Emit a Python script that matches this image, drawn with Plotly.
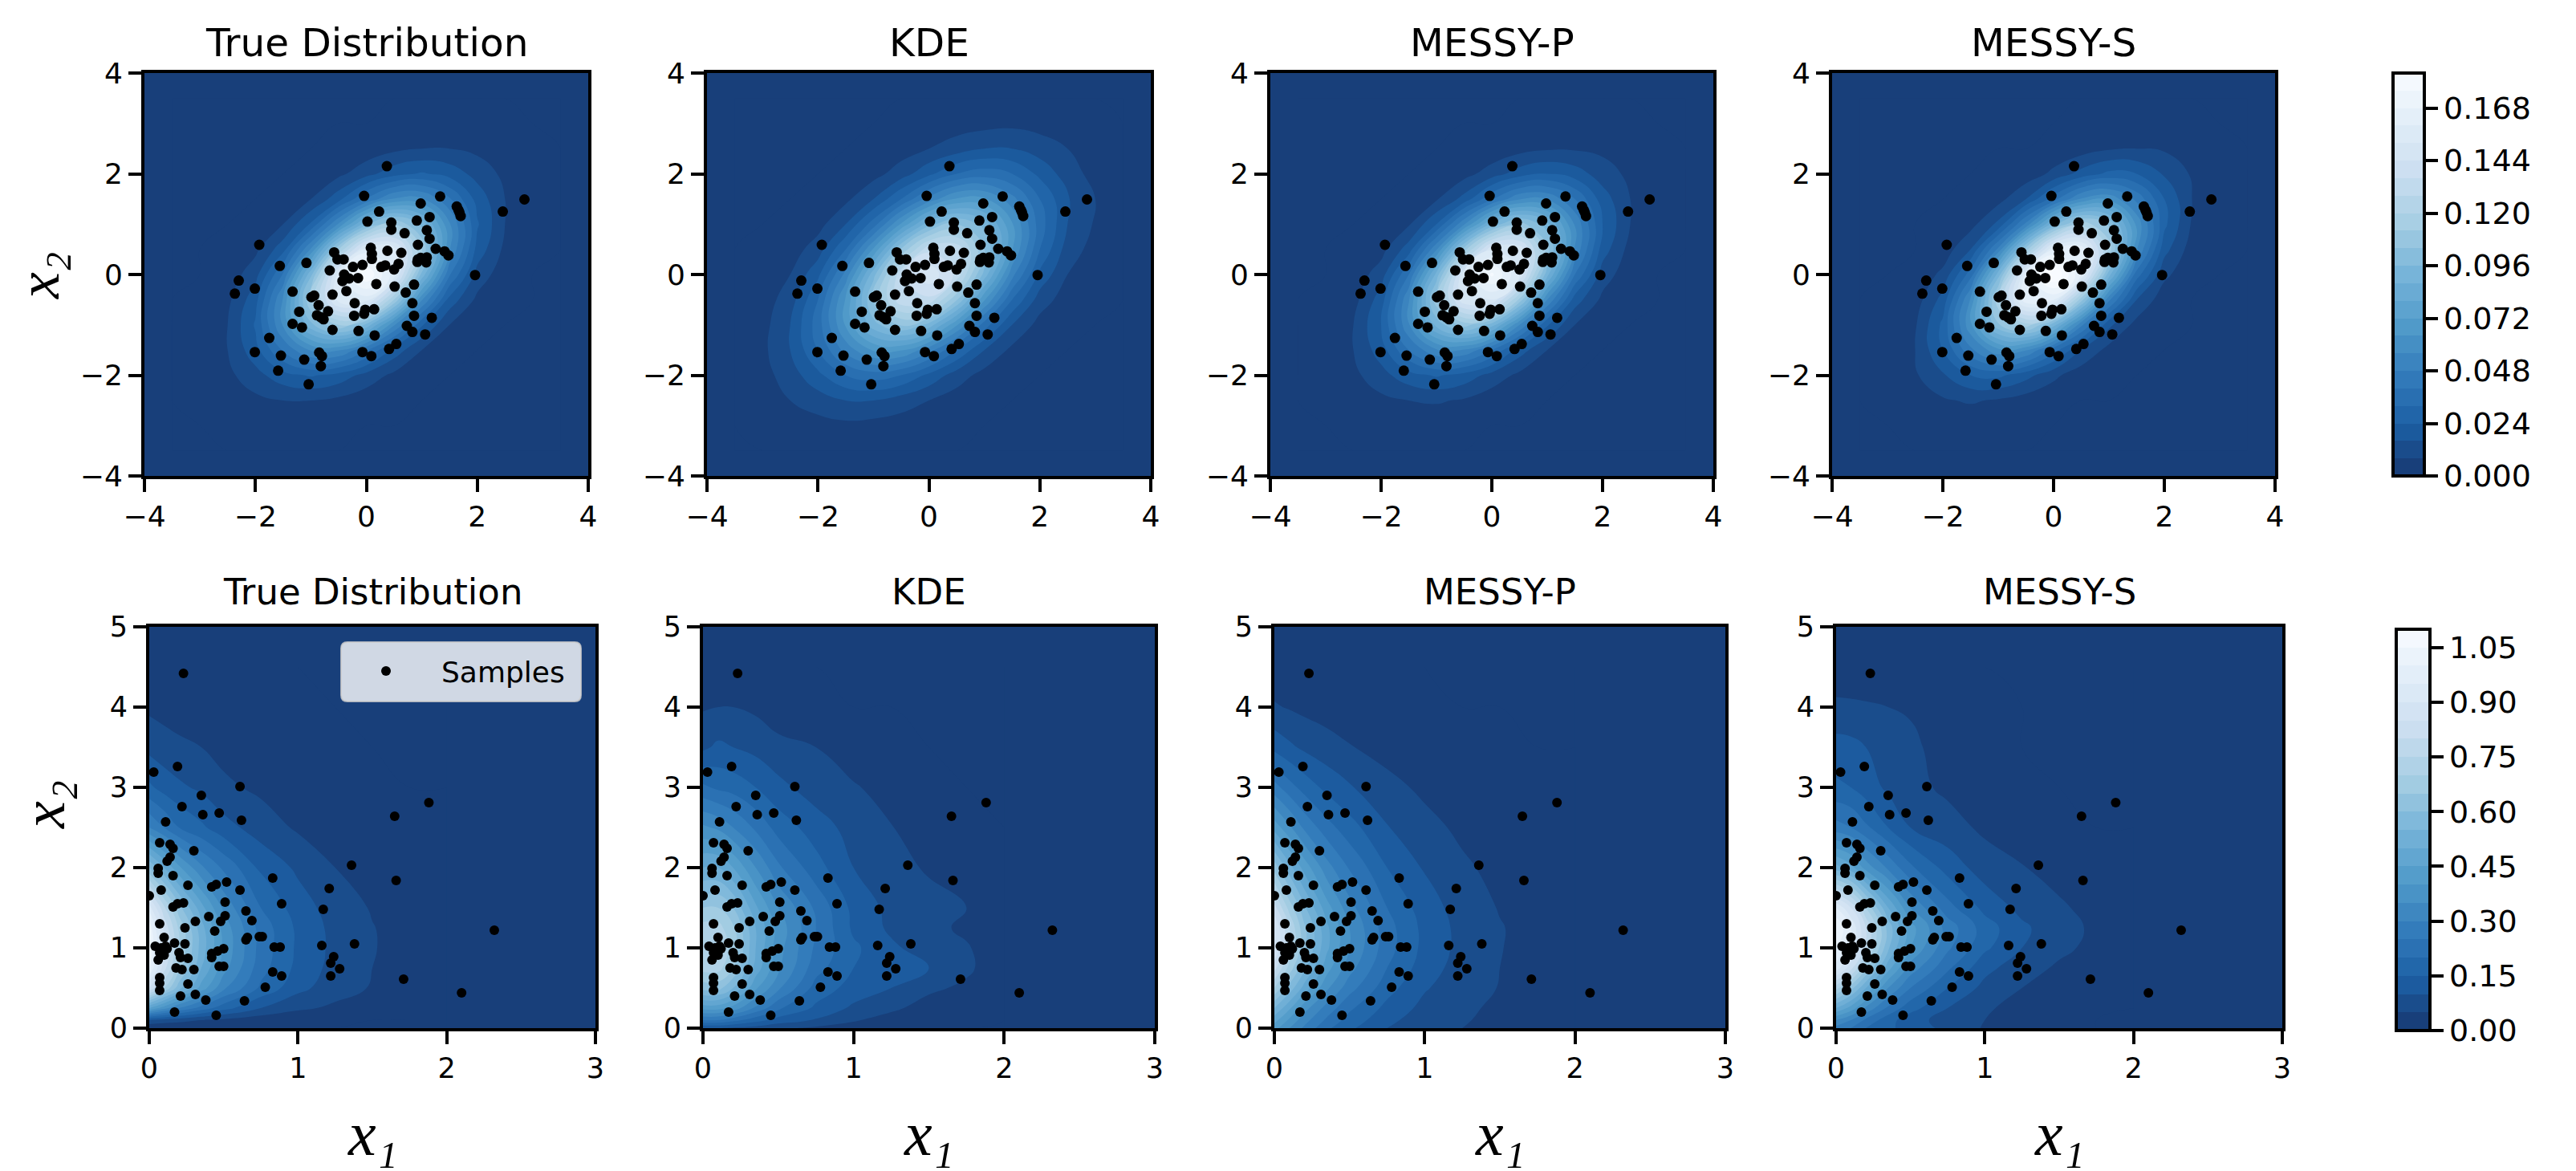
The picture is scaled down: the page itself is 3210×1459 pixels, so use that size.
import numpy as np
import plotly.graph_objects as go

W, H = 3210, 1459

# ---------- categories / tick labels ----------
titles = ["True Distribution", "KDE", "MESSY-P", "MESSY-S"]
ticks_top = [-4, -2, 0, 2, 4]
ticks_bottom_x = [0, 1, 2, 3]
ticks_bottom_y = [0, 1, 2, 3, 4, 5]
cbar_top_ticks = [0.000, 0.024, 0.048, 0.072, 0.096, 0.120, 0.144, 0.168]
cbar_top_text = ["0.000", "0.024", "0.048", "0.072", "0.096", "0.120", "0.144", "0.168"]
cbar_bottom_ticks = [0.00, 0.15, 0.30, 0.45, 0.60, 0.75, 0.90, 1.05]
cbar_bottom_text = ["0.00", "0.15", "0.30", "0.45", "0.60", "0.75", "0.90", "1.05"]

# ---------- samples ----------
top_x = [.37,-.04,1.33,.98,1.63,1.66,1.68,1.70,2.85,2.46,.23,1.14,.91,.02,.45,.45,1.09,.69,1.14,-1.93,.93,.08,
         1.25,1.41,1.48,.38,.63,-.58,.10,.10,-.52,-.41,.93,1.09,.92,1.08,.98,-1.08,-1.56,-.07,-.24,.27,.34,.58,
         .5,-.66,1.96,-.4,-.31,-.15,-.43,-2.3,-2.01,-2.37,.18,.86,.51,-.36,-1.33,.71,-.61,-.94,-.99,-.21,.83,
         -.86,.14,-.02,-.04,-.69,-1.21,-.22,.86,1.18,-.89,-.82,-.77,-1.33,-1.16,.73,.83,-.61,-.14,1.06,.15,
         -1.75,.54,.41,-2.01,-.07,-.85,.09,-1.54,-.8,-1.12,-.82,-1.59,-1.04]
top_y = [2.15,1.56,1.55,1.41,1.35,1.28,1.23,1.16,1.49,1.25,1.25,1.14,1.07,1.05,1.03,.89,.88,.82,.71,.59,.59,.53,
         .51,.46,.38,.47,.43,.44,.41,.31,.30,.30,.3,.34,.25,.24,.33,.23,.17,.19,.15,.15,.18,.21,
         .1,.08,-.01,0,-.08,-.07,-.13,-.12,-.28,-.38,-.19,-.2,-.24,-.33,-.34,-.36,-.4,-.42,-.45,-.57,-.57,
         -.61,-.69,-.7,-.78,-.73,-.74,-.82,-.82,-.86,-.81,-.85,-.89,-.98,-1.05,-1.02,-1.14,-1.1,-1.12,-1.19,-1.21,
         -1.26,-1.38,-1.48,-1.54,-1.54,-1.55,-1.62,-1.61,-1.62,-1.69,-1.82,-1.91,-2.18]

bottom_x = [.23,.19,.03,.61,.35,.22,.36,.47,.62,.11,.07,.14,.16,.30,.14,.12,.06,.06,.16,.26,.42,.45,.52,.83,.61,.08,
            0,.23,.19,.16,.51,.89,.65,.40,.51,.48,.69,.31,.07,.24,.44,.74,.76,.65,.66,.10,.17,.24,.04,.08,.11,.12,
            .10,.07,.10,.06,.50,.46,.42,.42,.20,.21,.26,.84,.88,1.16,1.38,1.17,1.21,1.36,1.66,1.65,1.88,2.32,1.24,
            1.22,1.28,1.22,1.71,2.10,.47,.50,.18,.22,.30,.83,.89,.07,.07,.07,.26,.78,.21,.31,.38,.64,.17,.45]
bottom_y = [4.42,3.26,3.19,3.01,2.90,2.76,2.66,2.68,2.59,2.57,2.31,2.29,2.24,2.21,2.13,2.08,1.99,1.93,1.90,1.78,1.76,
            1.79,1.82,1.87,1.72,1.72,1.65,1.56,1.55,1.51,1.57,1.55,1.46,1.39,1.40,1.33,1.34,1.33,1.30,1.25,1.21,1.14,
            1.14,1.10,1.13,1.13,1.06,1.05,1.02,1.00,1.02,.99,.95,.94,.91,.85,.99,.96,.93,.88,.94,.88,.87,1.01,1.01,
            1.03,1.05,1.48,1.74,2.03,1.84,2.64,2.81,1.22,.89,.81,.74,.65,.61,.44,.77,.77,.75,.73,.73,.70,.65,.63,.56,
            .47,.55,.51,.40,.42,.35,.34,.20,.16]

# ---------- density, top row (units of 0.001) ----------
top_grid = [-3.5, -3, -2.5, -2, -1.5, -1, -.5, 0, .5, 1, 1.5, 2, 2.5, 3, 3.5]

dens_true = [
 [0,1,2,2,2,1,0,0,0,0,0,0,0],
 [1,3,6,8,8,6,3,1,0,0,0,0,0],
 [2,6,13,21,25,21,13,6,2,0,0,0,0],
 [2,8,21,41,57,57,41,21,8,2,0,0,0],
 [2,8,25,57,94,112,94,57,25,8,2,0,0],
 [1,6,21,57,112,156,156,112,57,21,6,1,0],
 [0,3,13,41,94,156,184,156,94,41,13,3,0],
 [0,1,6,21,57,112,156,156,112,57,21,6,1],
 [0,0,2,8,25,57,94,112,94,57,25,8,2],
 [0,0,0,2,8,21,41,57,57,41,21,8,2],
 [0,0,0,0,2,6,13,21,25,21,13,6,2],
 [0,0,0,0,0,1,3,6,8,8,6,3,1],
 [0,0,0,0,0,0,0,1,2,2,2,1,0],
]
dens_kde = [
 [2,4,5,6,5,4,2,1,0,0,0,0,0],
 [4,8,12,16,16,12,8,4,1,0,0,0,0],
 [5,12,22,32,36,32,22,12,5,2,0,0,0],
 [6,16,32,51,65,65,51,32,16,6,2,0,0],
 [5,16,36,65,93,105,93,65,36,16,5,1,0],
 [4,12,32,65,105,134,134,105,65,32,12,4,1],
 [2,8,22,51,93,134,150,134,93,51,22,8,2],
 [1,4,12,32,65,105,134,134,105,65,32,12,5],
 [0,1,5,16,36,65,93,105,93,65,36,16,7],
 [0,0,2,6,16,32,51,65,65,51,32,17,8],
 [0,0,0,2,5,12,22,32,36,32,22,12,5],
 [0,0,0,0,1,4,8,12,16,16,12,8,4],
 [0,0,0,0,0,1,2,4,5,6,5,4,2],
]
dens_p = [
 [0,1,2,2,2,1,0,0,0,0,0,0,0],
 [1,3,6,8,9,7,3,1,0,0,0,0,0],
 [2,6,13,21,25,21,13,6,2,0,0,0,0],
 [2,8,20,40,55,55,40,20,8,2,0,0,0],
 [2,8,24,55,91,108,92,56,25,8,2,0,0],
 [1,5,20,55,109,151,152,110,56,20,6,1,0],
 [0,3,12,40,91,152,178,152,91,40,12,3,0],
 [0,1,5,20,55,108,151,150,108,55,20,5,1],
 [0,0,2,7,24,55,90,108,91,55,24,8,2],
 [0,0,0,2,7,19,39,55,55,40,20,8,2],
 [0,0,0,0,1,5,12,20,24,20,12,6,2],
 [0,0,0,0,0,1,2,5,7,7,6,3,1],
 [0,0,0,0,0,0,0,1,1,2,1,1,0],
]
dens_s = [
 [0,1,2,2,2,1,0,0,0,0,0,0,0],
 [1,4,7,9,7,4,2,0,0,0,0,0,0],
 [2,7,15,24,26,19,10,3,1,0,0,0,0],
 [2,8,24,46,62,57,36,16,5,1,0,0,0],
 [2,7,26,62,103,117,92,50,18,5,1,0,0],
 [1,4,19,57,117,166,161,108,50,16,3,0,0],
 [0,2,10,36,92,161,194,161,92,36,10,2,0],
 [0,0,3,16,50,108,161,166,117,57,19,4,1],
 [0,0,1,5,18,50,92,117,103,62,26,7,2],
 [0,0,0,1,5,16,36,57,62,46,24,8,2],
 [0,0,0,0,1,3,10,19,26,24,15,7,2],
 [0,0,0,0,0,0,2,4,7,8,7,4,1],
 [0,0,0,0,0,0,0,1,2,2,2,1,0],
]

# ---------- density, bottom row ----------
bottom_grid_x = [0, .1, .2, .35, .5, .75, 1, 1.25, 1.5, 1.75, 2]
bottom_grid_y = [0, .1, .25, .5, .75, 1, 1.25, 1.5, 2, 2.5, 3, 3.5, 4, 4.5]

gam_true = [
 [0,0,0,0,0,0,0,0,0,0,0],
 [.10,.08,.07,.05,.04,.02,.01,.01,0,0,0],
 [.45,.37,.30,.23,.17,.10,.06,.04,.02,.01,.01],
 [.85,.70,.57,.43,.31,.19,.115,.072,.046,.026,.015],
 [1.0,.82,.67,.50,.37,.22,.135,.082,.05,.03,.018],
 [1.05,.86,.70,.53,.39,.23,.14,.086,.053,.03,.02],
 [1.03,.84,.69,.52,.38,.23,.139,.084,.052,.03,.018],
 [.93,.76,.62,.47,.34,.20,.125,.076,.046,.028,.017],
 [.60,.50,.41,.31,.24,.14,.09,.05,.03,.016,.01],
 [.30,.25,.20,.16,.12,.075,.043,.025,.015,.01,.005],
 [.16,.13,.11,.09,.06,.04,.02,.013,.008,0,0],
 [.085,.07,.06,.05,.035,.019,.011,.005,0,0,0],
 [.04,.033,.027,.02,.015,.008,.004,0,0,0,0],
 [.015,.012,.01,.008,.005,.002,0,0,0,0,0],
]
gam_kde = [
 [.10,.10,.09,.08,.06,.04,.03,.02,.01,0,0],
 [.25,.25,.22,.17,.13,.095,.055,.03,.015,.005,0],
 [.42,.42,.38,.29,.21,.14,.09,.06,.03,.01,0],
 [.62,.62,.55,.41,.31,.18,.13,.10,.06,.04,.01],
 [.72,.72,.65,.48,.36,.22,.15,.125,.10,.06,.015],
 [.74,.74,.68,.50,.37,.24,.16,.11,.075,.055,.015],
 [.72,.72,.66,.50,.38,.25,.14,.09,.065,.04,.01],
 [.65,.65,.60,.46,.35,.24,.135,.085,.065,.05,.012],
 [.50,.50,.45,.35,.26,.17,.10,.065,.045,.02,.005],
 [.36,.34,.30,.24,.18,.125,.08,.052,.025,.01,0],
 [.21,.19,.18,.15,.115,.075,.055,.03,.01,0,0],
 [.09,.11,.10,.085,.065,.05,.02,.01,0,0,0],
 [.045,.05,.05,.04,.02,.01,0,0,0,0,0],
 [.01,.01,.01,.005,0,0,0,0,0,0,0],
]
gam_p = [
 [.42,.35,.29,.21,.16,.10,.063,.05,.03,.015,.01],
 [.47,.39,.32,.24,.18,.115,.07,.055,.035,.018,.01],
 [.55,.46,.37,.28,.21,.135,.085,.06,.04,.02,.012],
 [.70,.58,.48,.36,.27,.17,.105,.07,.048,.025,.015],
 [.82,.68,.56,.42,.32,.20,.125,.077,.05,.03,.018],
 [.90,.75,.61,.46,.35,.22,.135,.084,.052,.032,.02],
 [.90,.75,.61,.46,.35,.22,.135,.084,.053,.032,.02],
 [.82,.68,.56,.42,.32,.20,.125,.077,.047,.03,.018],
 [.63,.52,.43,.32,.245,.15,.095,.058,.036,.022,.014],
 [.43,.36,.29,.22,.17,.103,.065,.04,.025,.015,.01],
 [.27,.22,.18,.135,.105,.065,.04,.025,.015,.01,.006],
 [.135,.11,.09,.07,.053,.032,.02,.012,.006,0,0],
 [.055,.046,.037,.028,.02,.013,.006,0,0,0,0],
 [.02,.016,.013,.01,.007,.003,0,0,0,0,0],
]
gam_s = [
 [.28,.25,.20,.16,.13,.085,.045,.02,.01,0,0],
 [.35,.30,.24,.17,.12,.08,.05,.025,.01,0,0],
 [.50,.43,.34,.24,.17,.10,.058,.03,.012,.005,0],
 [.72,.62,.50,.35,.25,.15,.085,.05,.025,.012,.006],
 [.93,.82,.66,.47,.33,.21,.115,.072,.042,.022,.01],
 [1.0,.92,.78,.56,.40,.26,.16,.10,.062,.036,.015],
 [1.05,.95,.80,.58,.42,.28,.175,.11,.07,.04,.02],
 [.95,.85,.70,.50,.35,.22,.135,.085,.058,.032,.012],
 [.52,.47,.38,.29,.21,.13,.075,.053,.03,.015,.005],
 [.27,.25,.21,.15,.10,.07,.04,.02,.01,0,0],
 [.16,.15,.125,.09,.065,.04,.02,.01,0,0,0],
 [.12,.115,.10,.075,.06,.03,.015,0,0,0,0],
 [.06,.058,.055,.05,.045,.02,.01,0,0,0,0],
 [.02,.02,.02,.015,.01,0,0,0,0,0,0],
]

# ---------- styling ----------
BASE = "#183F7A"
colorscale = [
    [0.0, BASE], [0.024, BASE], [0.125, "#1C5FA4"], [0.25, "#337CBB"], [0.375, "#519BCA"],
    [0.5, "#77B4D9"], [0.625, "#A6CEE3"], [0.75, "#CBDEF0"], [0.875, "#E1EDF8"], [1.0, "#F8FBFF"],
]
FONT = "DejaVu Sans"
SERIF = "Liberation Serif"
OFF = 8  # the page body adds this much to the figure's top-left corner

top_boxes = [(180, 733), (881, 1434), (1583, 2135), (2283, 2835)]
bot_boxes = [(186, 742), (876, 1439), (1588, 2150), (2288, 2844)]
top_row = (91, 593)
bot_row = (781, 1281)


def fx(px):
    return (px - OFF) / W


def fy(py):
    return 1 - (py - OFF) / H


fig = go.Figure()
layout = {}
annotations = []


def pad(table):
    return np.pad(np.array(table, dtype=float) / 1000.0, 1).tolist()


top_tables = [dens_true, dens_kde, dens_p, dens_s]
bot_tables = [gam_true, gam_kde, gam_p, gam_s]

for k in range(8):
    idx = k + 1
    is_top = k < 4
    col = k % 4
    (x0, x1) = top_boxes[col] if is_top else bot_boxes[col]
    (y0, y1) = top_row if is_top else bot_row
    xn, yn = f"x{idx}", f"y{idx}"
    tick_size = 36 if is_top else 35
    common = dict(
        showline=True, mirror=True, linecolor="#000000", linewidth=4, showgrid=False, zeroline=False,
        automargin=False,
        ticks="outside", ticklen=16, tickwidth=3.5, tickcolor="#000000",
        tickfont=dict(family=FONT, size=tick_size, color="#000000"),
    )
    layout[f"xaxis{idx}"] = dict(
        domain=[fx(x0), fx(x1)], anchor=yn,
        range=[-4, 4] if is_top else [0, 3],
        tickmode="array", tickvals=ticks_top if is_top else ticks_bottom_x, **common)
    layout[f"yaxis{idx}"] = dict(
        domain=[fy(y1), fy(y0)], anchor=xn,
        range=[-4, 4] if is_top else [0, 5],
        tickmode="array", tickvals=ticks_top if is_top else ticks_bottom_y, **common)

    if is_top:
        cb = dict(
            thickness=39, thicknessmode="pixels", len=(top_row[1] - top_row[0]) / H, lenmode="fraction",
            x=fx(2982), xanchor="left", xpad=0, y=fy(top_row[1]), yanchor="bottom", ypad=0,
            tickmode="array", tickvals=cbar_top_ticks, ticktext=cbar_top_text)
        trace = go.Contour(
            x=top_grid, y=top_grid, z=pad(top_tables[col]), zmin=0, zmax=0.184, zauto=False,
            contours=dict(start=0, end=0.184, size=0.008, coloring="fill", showlines=False),
            line=dict(width=0, smoothing=1.3))
    else:
        cb = dict(
            thickness=42, thicknessmode="pixels", len=(1284 - 784) / H, lenmode="fraction",
            x=fx(2986), xanchor="left", xpad=0, y=fy(1284), yanchor="bottom", ypad=0,
            tickmode="array", tickvals=cbar_bottom_ticks, ticktext=cbar_bottom_text)
        trace = go.Contour(
            x=bottom_grid_x, y=bottom_grid_y, z=bot_tables[col], zmin=0, zmax=1.10, zauto=False,
            contours=dict(start=0, end=1.10, size=0.05, coloring="fill", showlines=False),
            line=dict(width=0, smoothing=1.3))
    cb.update(outlinewidth=4, outlinecolor="#000000", ticks="outside", ticklen=15, tickwidth=3.5,
              tickcolor="#000000", tickfont=dict(family=FONT, size=38, color="#000000"))
    trace.update(colorscale=colorscale, showscale=(col == 0), colorbar=cb, xaxis=xn, yaxis=yn,
                 hoverinfo="skip", showlegend=False)
    fig.add_trace(trace)

    fig.add_trace(go.Scatter(
        x=top_x if is_top else bottom_x, y=top_y if is_top else bottom_y, mode="markers", name="Samples",
        marker=dict(color="#000000", size=13 if is_top else 12),
        xaxis=xn, yaxis=yn, showlegend=(k == 4)))

    annotations.append(dict(
        text=titles[col], xref="paper", yref="paper", x=fx((x0 + x1) / 2),
        y=fy(53 if is_top else 737), xanchor="center", yanchor="middle", showarrow=False,
        font=dict(family=FONT, size=48.5 if is_top else 45, color="#000000")))
    if not is_top:
        annotations.append(dict(
            text="x\u2081", xref="paper", yref="paper", x=fx((x0 + x1) / 2), y=fy(1412),
            xanchor="center", yanchor="middle", showarrow=False,
            font=dict(family=SERIF, size=78, style="italic", color="#000000")))

annotations.append(dict(
    text="x\u2082", xref="paper", yref="paper", x=fx(48), y=fy(343), xanchor="center",
    yanchor="middle", textangle=-90, showarrow=False,
    font=dict(family=SERIF, size=74, style="italic", color="#000000")))
annotations.append(dict(
    text="x\u2082", xref="paper", yref="paper", x=fx(54), y=fy(1003), xanchor="center",
    yanchor="middle", textangle=-90, showarrow=False,
    font=dict(family=SERIF, size=76, style="italic", color="#000000")))

# rounded legend frame
lx0, lx1, ly0, ly1, r = 425, 724, 800, 874, 8
frame = (f"M {fx(lx0 + r)} {fy(ly0)} L {fx(lx1 - r)} {fy(ly0)} Q {fx(lx1)} {fy(ly0)} {fx(lx1)} {fy(ly0 + r)} "
         f"L {fx(lx1)} {fy(ly1 - r)} Q {fx(lx1)} {fy(ly1)} {fx(lx1 - r)} {fy(ly1)} "
         f"L {fx(lx0 + r)} {fy(ly1)} Q {fx(lx0)} {fy(ly1)} {fx(lx0)} {fy(ly1 - r)} "
         f"L {fx(lx0)} {fy(ly0 + r)} Q {fx(lx0)} {fy(ly0)} {fx(lx0 + r)} {fy(ly0)} Z")

fig.update_layout(
    template="none",
    width=W, height=H, margin=dict(l=0, r=0, t=0, b=0, autoexpand=False), autosize=False,
    paper_bgcolor="#FFFFFF", plot_bgcolor=BASE,
    font=dict(family=FONT, color="#000000"),
    annotations=annotations,
    shapes=[dict(type="path", path=frame, xref="paper", yref="paper", layer="above",
                 fillcolor="rgba(255,255,255,0.8)", line=dict(color="rgba(204,204,204,0.8)", width=2))],
    legend=dict(x=fx(412), y=fy(806), xanchor="left", yanchor="top", bgcolor="rgba(0,0,0,0)",
                borderwidth=0, itemwidth=128, font=dict(family=FONT, size=36, color="#000000")),
    **layout,
)

fig.write_html("out.html")
